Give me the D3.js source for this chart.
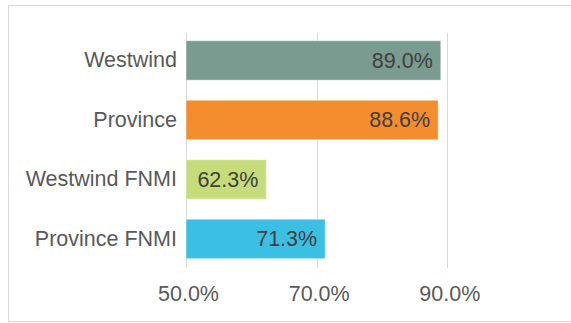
<!DOCTYPE html>
<html lang="en-US">
<head>
<meta charset="UTF-8">
<script src="https://cdn.jsdelivr.net/npm/d3@7"></script>
<style>
  body { margin: 0; background: #fff; }
  text { font-family: "Liberation Sans", Arial, Helvetica, sans-serif; }
</style>
</head>
<body>
<div id="chart"></div>
<script>
  // data
  const categories = ["Westwind", "Province", "Westwind FNMI", "Province FNMI"];
  const values = [89.0, 88.6, 62.3, 71.3];
  const barColors = ["#7a9b8f", "#f48d2d", "#c6dc7b", "#3bbfe3"];
  const tickValues = [50, 70, 90];

  let width = 571;
  let height = 323;

  const svg = d3.select("#chart")
    .append("svg")
    .attr("width", width)
    .attr("height", height);

  // frame
  svg.append("rect")
    .attr("x", 8.5).attr("y", 5.5)
    .attr("width", 600).attr("height", 316)
    .attr("fill", "none")
    .attr("stroke", "#d9d9d9")
    .attr("stroke-width", 1);

  const x = d3.scaleLinear()
    .domain([50, 110])
    .range([186, 578]);

  const y = d3.scaleBand()
    .domain(categories)
    .range([30.7, 268.7])
    .paddingInner(0.336)
    .paddingOuter(0.168);

  // gridlines
  svg.append("g")
    .selectAll("line")
    .data(tickValues)
    .enter()
    .append("line")
      .attr("x1", d => Math.round(x(d)) + 0.5)
      .attr("x2", d => Math.round(x(d)) + 0.5)
      .attr("y1", 33)
      .attr("y2", 268)
      .attr("stroke", "#d9d9d9")
      .attr("stroke-width", 1);

  // x axis labels
  const xAxisG = svg.append("g")
    .attr("transform", "translate(0,283)")
    .call(d3.axisBottom(x).tickValues(tickValues).tickFormat(d => d.toFixed(1) + "%").tickSize(0));
  xAxisG.select(".domain").remove();
  xAxisG.selectAll("text")
    .attr("dx", 2)
    .attr("fill", "#595959")
    .style("font-size", "21.5px")
    .style("font-family", "'Liberation Sans', Arial, sans-serif");

  // bars
  svg.append("g")
    .selectAll("rect")
    .data(values)
    .enter()
    .append("rect")
      .attr("x", x(50))
      .attr("y", (d, i) => y(categories[i]))
      .attr("width", d => x(d) - x(50))
      .attr("height", y.bandwidth())
      .attr("fill", (d, i) => barColors[i])
      .attr("stroke", "rgba(255,255,255,0.5)")
      .attr("stroke-width", 1);

  // value labels
  svg.append("g")
    .selectAll("text")
    .data(values)
    .enter()
    .append("text")
      .attr("x", d => x(d) - 8)
      .attr("y", (d, i) => y(categories[i]) + y.bandwidth() / 2)
      .attr("dy", "0.35em")
      .attr("text-anchor", "end")
      .attr("fill", "#404040")
      .style("font-size", "21.5px")
      .text(d => d.toFixed(1) + "%");

  // category labels
  const yAxisG = svg.append("g")
    .attr("transform", "translate(177,0)")
    .call(d3.axisLeft(y).tickSize(0).tickPadding(0));
  yAxisG.select(".domain").remove();
  yAxisG.selectAll("text")
    .attr("fill", "#595959")
    .style("font-size", "21.5px")
    .style("font-family", "'Liberation Sans', Arial, sans-serif");
</script>
</body>
</html>
